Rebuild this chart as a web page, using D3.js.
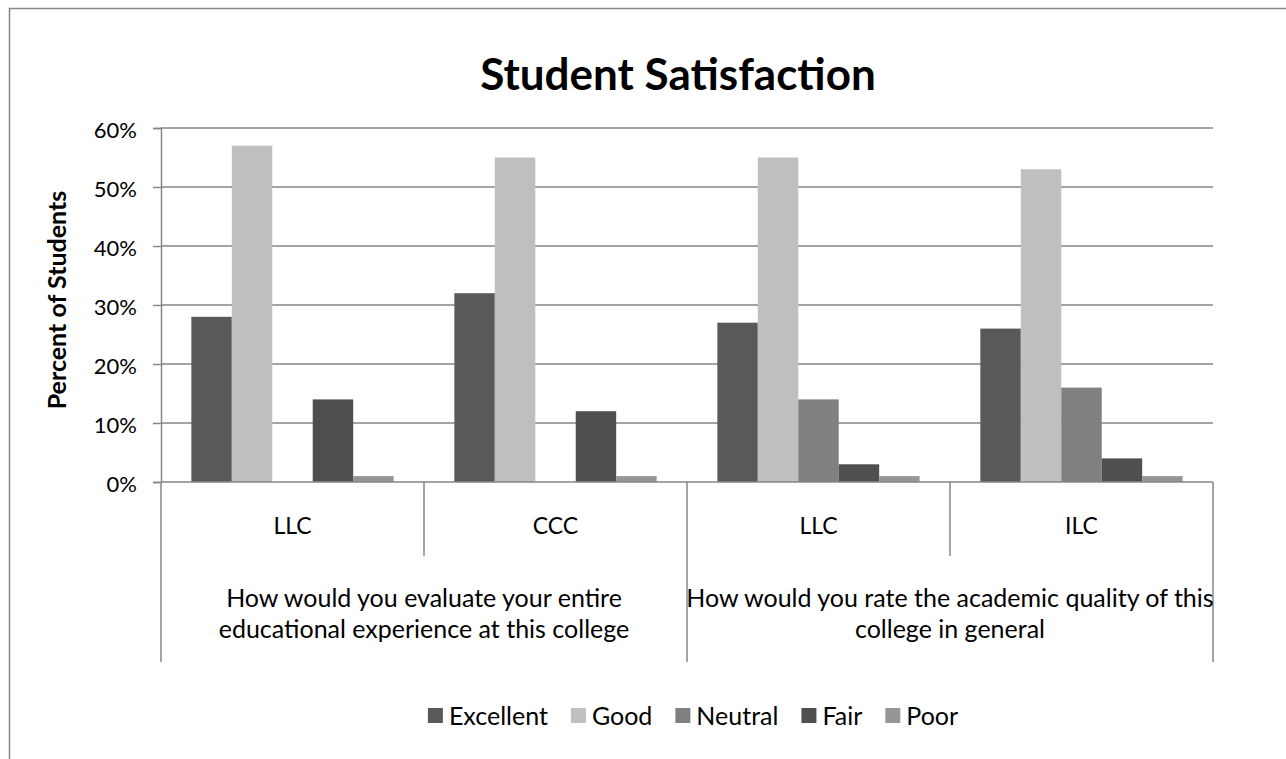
<!DOCTYPE html>
<html>
<head>
<meta charset="utf-8">
<script src="https://cdn.jsdelivr.net/npm/d3@7"></script>
<style>
  body { margin: 0; background: #fff; }
  svg { display: block; font-family: Lato, "Open Sans", sans-serif; }
</style>
</head>
<body>
<div id="chart"></div>
<script>
// data
const categories = ["LLC", "CCC", "LLC", "ILC"];
const questions = [
  ["How would you evaluate your entire", "educational experience at this college"],
  ["How would you rate the academic quality of this", "college in general"]
];
const series = ["Excellent", "Good", "Neutral", "Fair", "Poor"];
const excellent = [28, 32, 27, 26];
const good = [57, 55, 55, 53];
const neutral = [null, null, 14, 16];
const fair = [14, 12, 3, 4];
const poor = [1, 1, 1, 1];
const yTicks = [0, 10, 20, 30, 40, 50, 60];

const values = [excellent, good, neutral, fair, poor];
const colors = ["#595959", "#bfbfbf", "#808080", "#4f4f4f", "#969696"];

const width = 1286, height = 759;
const plot = { left: 161, right: 1213, top: 128, bottom: 482 };
const gridColor = "#868686";

const svg = d3.select("#chart").append("svg")
  .attr("width", width)
  .attr("height", height);

// cadre du graphique
svg.append("rect")
  .attr("x", 9.5).attr("y", 8.5)
  .attr("width", 1320).attr("height", 800)
  .attr("fill", "none")
  .attr("stroke", gridColor)
  .attr("stroke-width", 1.5);

// scales
const x0 = d3.scaleBand()
  .domain(categories.map((d, i) => i))
  .range([plot.left, plot.right]);

const x1 = d3.scaleBand()
  .domain(series)
  .range([0, x0.bandwidth()])
  .paddingInner(0)
  .paddingOuter(0.75);

const y = d3.scaleLinear()
  .domain([0, 60])
  .range([plot.bottom, plot.top]);

// grid
svg.append("g")
  .selectAll("line")
  .data(yTicks.slice(1))
  .join("line")
    .attr("x1", plot.left).attr("x2", plot.right)
    .attr("y1", d => y(d)).attr("y2", d => y(d))
    .attr("stroke", gridColor)
    .attr("stroke-width", 1.5);

// y axis
const yAxis = svg.append("g")
  .attr("transform", `translate(${plot.left},0)`)
  .call(d3.axisLeft(y).tickValues(yTicks).tickSize(8).tickPadding(16).tickFormat(d => d + "%"));
yAxis.select(".domain").attr("stroke", gridColor).attr("stroke-width", 1.5);
yAxis.selectAll(".tick line").attr("stroke", gridColor).attr("stroke-width", 1.5);
yAxis.selectAll(".tick text")
  .attr("font-size", 22)
  .attr("font-family", "Lato, sans-serif")
  .attr("fill", "#000")
  .attr("dy", "0.45em");

// bars
const groups = svg.append("g")
  .selectAll("g")
  .data(categories.map((c, i) => i))
  .join("g")
    .attr("transform", i => `translate(${x0(i)},0)`);

groups.selectAll("rect")
  .data(i => series.map((s, k) => ({ s, k, v: values[k][i] })).filter(d => d.v !== null))
  .join("rect")
    .attr("x", d => x1(d.s))
    .attr("width", x1.bandwidth())
    .attr("y", d => y(d.v))
    .attr("height", d => y(0) - y(d.v))
    .attr("fill", d => colors[d.k]);

// x axis line
svg.append("line")
  .attr("x1", plot.left).attr("x2", plot.right)
  .attr("y1", plot.bottom).attr("y2", plot.bottom)
  .attr("stroke", gridColor).attr("stroke-width", 1.5);

// category labels (niveau 1)
const xAxis = svg.append("g")
  .attr("transform", `translate(0,${plot.bottom})`)
  .call(d3.axisBottom(x0).tickSize(0).tickPadding(0).tickFormat(i => categories[i]));
xAxis.select(".domain").remove();
xAxis.selectAll(".tick text")
  .attr("font-size", 23)
  .attr("font-family", "Lato, sans-serif")
  .attr("fill", "#000")
  .attr("dy", 0)
  .attr("y", 52);

// séparateurs
const minorSep = [1, 3].map(i => x0(i));
svg.append("g").selectAll("line")
  .data(minorSep)
  .join("line")
    .attr("x1", d => d).attr("x2", d => d)
    .attr("y1", plot.bottom).attr("y2", 556)
    .attr("stroke", gridColor).attr("stroke-width", 1.5);

const majorSep = [x0(0), x0(2), x0(3) + x0.bandwidth()];
svg.append("g").selectAll("line")
  .data(majorSep)
  .join("line")
    .attr("x1", d => d).attr("x2", d => d)
    .attr("y1", plot.bottom).attr("y2", 662)
    .attr("stroke", gridColor).attr("stroke-width", 1.5);

// question labels (niveau 2)
svg.append("g").selectAll("text")
  .data(questions)
  .join("text")
    .attr("x", (d, i) => (x0(i * 2) + x0(i * 2 + 1) + x0.bandwidth()) / 2)
    .attr("y", 607)
    .attr("text-anchor", "middle")
    .attr("font-size", 25)
    .selectAll("tspan")
    .data(d => d)
    .join("tspan")
      .attr("x", function () { return this.parentNode.getAttribute("x"); })
      .attr("dy", (d, j) => j === 0 ? 0 : 31)
      .text(d => d);

// title
svg.append("text")
  .attr("x", 678).attr("y", 90)
  .attr("text-anchor", "middle")
  .attr("font-size", 44)
  .attr("font-weight", "bold")
  .text("Student Satisfaction");

// y axis title
svg.append("text")
  .attr("transform", "translate(66,300) rotate(-90)")
  .attr("text-anchor", "middle")
  .attr("font-size", 25)
  .attr("font-weight", "bold")
  .text("Percent of Students");

// legend
const legend = svg.append("g");
let lx = 0;
const items = legend.selectAll("g")
  .data(series)
  .join("g");
items.append("rect")
  .attr("width", 15).attr("height", 15)
  .attr("y", -8)
  .attr("fill", (d, k) => colors[k]);
items.append("text")
  .attr("x", 21)
  .attr("y", 0)
  .attr("dy", "0.35em")
  .attr("font-size", 25)
  .text(d => d);
items.each(function () {
  d3.select(this).attr("transform", `translate(${lx},0)`);
  lx += this.getBBox().width + 23;
});
const legendW = lx - 23;
legend.attr("transform", `translate(${693 - legendW / 2},716)`);
</script>
</body>
</html>
